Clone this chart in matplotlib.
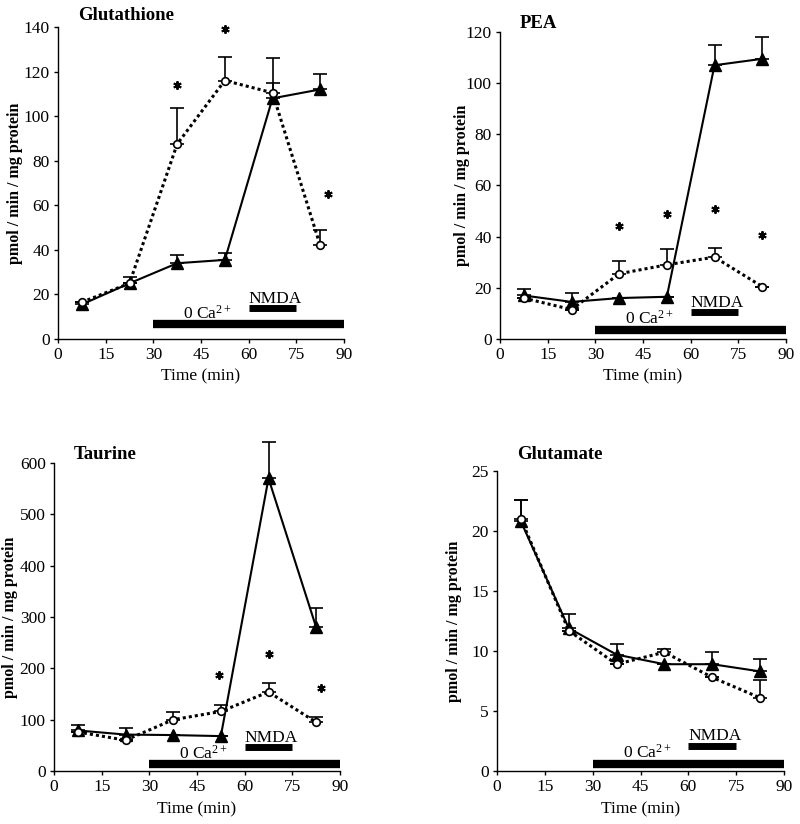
import matplotlib
matplotlib.use('Agg')
import matplotlib.pyplot as plt

plt.rcParams['font.family'] = ['Liberation Serif', 'DejaVu Serif']
plt.rcParams['mathtext.fontset'] = 'custom'
plt.rcParams['mathtext.rm'] = 'Liberation Serif'
plt.rcParams['mathtext.it'] = 'Liberation Serif:italic'
plt.rcParams['mathtext.bf'] = 'Liberation Serif:bold'

# sampling times (min)
time = [7.5, 22.5, 37.5, 52.5, 67.5, 82.5]

# treatment periods (min)
ca_free = (30, 90)
nmda = (60, 75)

# Glutathione
glut_tri = [15.5, 25, 34, 35.5, 108, 112]
glut_tri_err = [1, 3, 3.5, 3, 7, 7]
glut_circ = [16.5, 25, 87.5, 116, 110.5, 42]
glut_circ_err = [0, 0, 16, 10.5, 15.5, 7]
glut_star_x = [37.5, 52.5, 85]
glut_star_y = [114, 139, 65]

# PEA
pea_tri = [17, 14.5, 16, 16.5, 107, 109.5]
pea_tri_err = [2.5, 3.5, 0, 0, 8, 8.5]
pea_circ = [16, 11.5, 25.5, 29, 32, 20.5]
pea_circ_err = [0, 0, 5, 6, 3.5, 0]
pea_star_x = [37.5, 52.5, 67.5, 82.5]
pea_star_y = [44, 49, 51, 40.5]

# Taurine
taur_tri = [79, 71, 70, 68, 570, 280]
taur_tri_err = [10, 13, 0, 0, 70, 38]
taur_circ = [76, 60, 100, 116, 154, 95]
taur_circ_err = [0, 0, 15, 12, 17, 10]
taur_star_x = [52, 67.5, 84]
taur_star_y = [188, 228, 162]

# Glutamate
glu_tri = [20.8, 11.9, 9.7, 8.9, 8.9, 8.3]
glu_tri_err = [1.8, 1.2, 0.9, 0, 1.0, 1.0]
glu_circ = [21.0, 11.7, 8.9, 9.9, 7.8, 6.1]
glu_circ_err = [1.6, 0, 0, 0.3, 0, 1.5]
glu_star_x = []
glu_star_y = []

panels = [
    dict(title='Glutathione', tri=glut_tri, tri_err=glut_tri_err,
         circ=glut_circ, circ_err=glut_circ_err, sx=glut_star_x, sy=glut_star_y,
         ymax=140, ystep=20, rect=[0.0725, 0.5886, 0.3575, 0.3786],
         bar_y=0.047, nmda_y=0.098, ylab_x=-0.122, title_y=1.01),
    dict(title='PEA', tri=pea_tri, tri_err=pea_tri_err,
         circ=pea_circ, circ_err=pea_circ_err, sx=pea_star_x, sy=pea_star_y,
         ymax=120, ystep=20, rect=[0.625, 0.5886, 0.3575, 0.3726],
         bar_y=0.03, nmda_y=0.087, ylab_x=-0.105, title_y=1.0),
    dict(title='Taurine', tri=taur_tri, tri_err=taur_tri_err,
         circ=taur_circ, circ_err=taur_circ_err, sx=taur_star_x, sy=taur_star_y,
         ymax=600, ystep=100, rect=[0.0675, 0.0643, 0.3575, 0.3738],
         bar_y=0.022, nmda_y=0.077, ylab_x=-0.126, title_y=1.0),
    dict(title='Glutamate', tri=glu_tri, tri_err=glu_tri_err,
         circ=glu_circ, circ_err=glu_circ_err, sx=glu_star_x, sy=glu_star_y,
         ymax=25, ystep=5, rect=[0.62125, 0.0643, 0.35875, 0.3641],
         bar_y=0.025, nmda_y=0.084, ylab_x=-0.122, title_y=1.025),
]

fig = plt.figure(figsize=(8, 8.24), dpi=100)

for p in panels:
    ax = fig.add_axes(p['rect'])
    zeros = [0] * len(time)

    # triangles, solid line
    tri = ax.errorbar(time, p['tri'], yerr=[zeros, p['tri_err']], color='black',
                      lw=1.5, marker='^', markersize=8, mfc='black', mec='black',
                      ecolor='black', elinewidth=1.2, capsize=5, capthick=1.2,
                      zorder=3)
    # open circles, dotted line
    circ = ax.errorbar(time, p['circ'], yerr=[zeros, p['circ_err']], color='black',
                       lw=2.2, ls=(0, (1, 1)), marker='o', markersize=5.5,
                       mfc='white', mec='black', mew=1.2, ecolor='black',
                       elinewidth=1.2, capsize=5, capthick=1.2, zorder=4)
    for cont in (tri, circ):
        for art in cont.get_children():
            art.set_clip_on(False)

    if p['sx']:
        ax.plot(p['sx'], p['sy'], ls='none', marker=(6, 2, 0), markersize=6,
                mew=1.4, color='black', clip_on=False)

    # treatment bars
    tr = ax.get_xaxis_transform()
    ax.plot(ca_free, [p['bar_y']] * 2, color='black', lw=6,
            solid_capstyle='butt', transform=tr, clip_on=False)
    ax.plot(nmda, [p['nmda_y']] * 2, color='black', lw=5,
            solid_capstyle='butt', transform=tr, clip_on=False)
    ax.text(47, p['bar_y'] + 0.006, '0 Ca$^{2+}$', transform=tr,
            ha='center', va='bottom', fontsize=12.5)
    ax.text(68.3, p['nmda_y'] + 0.005, 'NMDA', transform=tr,
            ha='center', va='bottom', fontsize=12.5)

    ax.set_xlim(0, 90)
    ax.set_ylim(0, p['ymax'])
    ax.set_xticks(range(0, 91, 15))
    ax.set_yticks(range(0, p['ymax'] + 1, p['ystep']))
    for s in ['top', 'right']:
        ax.spines[s].set_visible(False)
    ax.spines['left'].set_linewidth(1)
    ax.spines['bottom'].set_linewidth(1)
    ax.tick_params(direction='out', length=3, width=1, labelsize=12.5, pad=3)

    ax.set_xlabel('Time (min)', fontsize=12.5, labelpad=4)
    ax.set_ylabel('pmol / min / mg protein', fontsize=11.5, fontweight='bold')
    ax.yaxis.set_label_coords(p['ylab_x'], 0.5)
    ax.text(0.07, p['title_y'], p['title'], transform=ax.transAxes, ha='left',
            va='bottom', fontsize=13.5, fontweight='bold')

fig.savefig('out.png', dpi=100)
